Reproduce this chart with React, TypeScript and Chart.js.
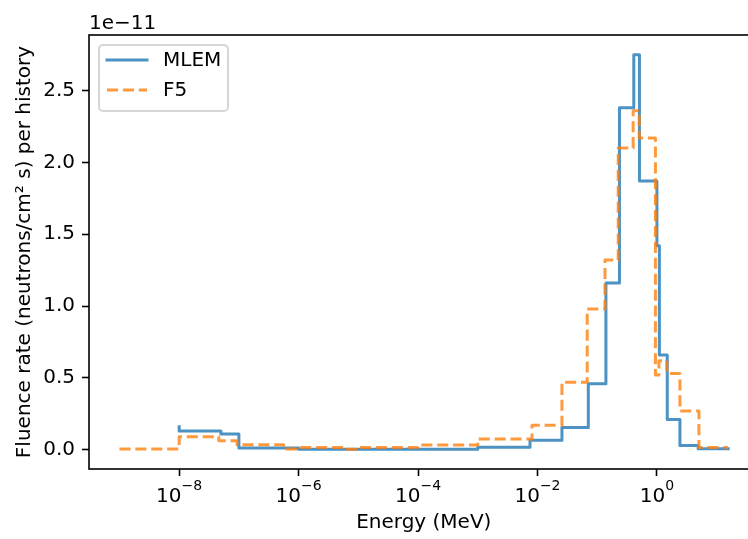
import React, { useEffect, useRef } from "react";
import { Chart, registerables } from "chart.js";

Chart.register(...registerables);

// ---- data (fluence in units of 1e-11, energy in MeV; matplotlib "pre" steps) ----
const MLEM_ENERGY = [1e-8, 5e-8, 1e-7, 1e-6, 1e-3, 7.5e-3, 2.57e-2, 7.1e-2, 0.14, 0.236, 0.41, 0.51, 1.0, 1.1, 1.49, 2.43, 4.9, 15.6];
const MLEM_FLUENCE = [0.16, 0.13, 0.11, 0.012, 0.004, 0.017, 0.065, 0.155, 0.46, 1.16, 2.38, 2.75, 1.87, 1.42, 0.66, 0.21, 0.03, 0.007];

const F5_ENERGY = [1e-9, 1e-8, 4.6e-8, 9.3e-8, 5.6e-7, 1e-6, 5.6e-6, 9.1e-6, 1e-4, 1e-3, 8.1e-3, 2.57e-2, 6.8e-2, 0.135, 0.225, 0.4, 0.506, 0.944, 1.08, 1.47, 2.43, 5.05, 15.4];
const F5_FLUENCE = [0.005, 0.005, 0.09, 0.063, 0.035, 0.005, 0.016, 0.003, 0.016, 0.032, 0.075, 0.17, 0.47, 0.98, 1.32, 2.1, 2.36, 2.17, 0.52, 0.62, 0.53, 0.27, 0.016];

const SERIES_LABELS = ["MLEM", "F5"];
const X_TICKS = [1e-8, 1e-6, 1e-4, 1e-2, 1];
const X_TICK_EXPONENTS = ["\u22128", "\u22126", "\u22124", "\u22122", "0"];
const Y_TICKS = [0, 0.5, 1.0, 1.5, 2.0, 2.5];
const Y_OFFSET_TEXT = "1e\u221211";
const X_TITLE = "Energy (MeV)";
const Y_TITLE = "Fluence rate (neutrons/cm\u00b2 s) per history";

const FONT = '"DejaVu Sans", sans-serif';
const BLUE = "rgba(31,119,180,0.8)";
const ORANGE = "rgba(255,127,14,0.8)";

// matplotlib-like 5% margins
const allE = [...MLEM_ENERGY, ...F5_ENERGY];
const allF = [...MLEM_FLUENCE, ...F5_FLUENCE];
const lxMin = Math.log10(Math.min(...allE));
const lxMax = Math.log10(Math.max(...allE));
const lxPad = 0.05 * (lxMax - lxMin);
const X_MIN = Math.pow(10, lxMin - lxPad);
const X_MAX = Math.pow(10, lxMax + lxPad);
const fMin = Math.min(...allF);
const fMax = Math.max(...allF);
const fPad = 0.05 * (fMax - fMin);
const Y_MIN = fMin - fPad;
const Y_MAX = fMax + fPad;

const decorPlugin = {
  id: "decor",
  afterDraw(chart: any) {
    const { ctx, chartArea: a } = chart;
    const xs = chart.scales.x;
    ctx.save();
    // frame (spines)
    ctx.strokeStyle = "#000";
    ctx.lineWidth = 1.6;
    ctx.strokeRect(a.left, a.top, a.right - a.left, a.bottom - a.top);

    // x tick labels 10^n
    ctx.fillStyle = "#000";
    ctx.textBaseline = "alphabetic";
    ctx.textAlign = "left";
    X_TICKS.forEach((v, i) => {
      const px = xs.getPixelForValue(v);
      ctx.font = `20px ${FONT}`;
      const wb = ctx.measureText("10").width;
      ctx.font = `14px ${FONT}`;
      const ws = ctx.measureText(X_TICK_EXPONENTS[i]).width;
      const x0 = px - (wb + ws) / 2;
      ctx.font = `20px ${FONT}`;
      ctx.fillText("10", x0, 501.5);
      ctx.font = `14px ${FONT}`;
      ctx.fillText(X_TICK_EXPONENTS[i], x0 + wb, 489.5);
    });

    // offset text
    ctx.font = `20px ${FONT}`;
    ctx.fillText(Y_OFFSET_TEXT, a.left, a.top - 6);

    // legend
    const lx = a.left + 10, ly = a.top + 10, lw = 129, lh = 66, r = 4;
    ctx.beginPath();
    ctx.moveTo(lx + r, ly);
    ctx.lineTo(lx + lw - r, ly);
    ctx.arcTo(lx + lw, ly, lx + lw, ly + r, r);
    ctx.lineTo(lx + lw, ly + lh - r);
    ctx.arcTo(lx + lw, ly + lh, lx + lw - r, ly + lh, r);
    ctx.lineTo(lx + r, ly + lh);
    ctx.arcTo(lx, ly + lh, lx, ly + lh - r, r);
    ctx.lineTo(lx, ly + r);
    ctx.arcTo(lx, ly, lx + r, ly, r);
    ctx.closePath();
    ctx.fillStyle = "rgba(255,255,255,0.8)";
    ctx.fill();
    ctx.strokeStyle = "rgba(204,204,204,0.8)";
    ctx.lineWidth = 2;
    ctx.stroke();

    const rows = [
      { label: SERIES_LABELS[0], color: BLUE, dash: [] as number[], y: ly + 15 },
      { label: SERIES_LABELS[1], color: ORANGE, dash: [11.1, 4.8], y: ly + 45 },
    ];
    rows.forEach((row) => {
      ctx.beginPath();
      ctx.setLineDash(row.dash);
      ctx.strokeStyle = row.color;
      ctx.lineWidth = 3;
      ctx.lineCap = row.dash.length ? "butt" : "square";
      ctx.moveTo(lx + 8, row.y);
      ctx.lineTo(lx + 48, row.y);
      ctx.stroke();
      ctx.setLineDash([]);
      ctx.fillStyle = "#000";
      ctx.font = `20px ${FONT}`;
      ctx.textBaseline = "middle";
      ctx.fillText(row.label, lx + 64, row.y + 1);
    });
    ctx.restore();
  },
};

export default function App() {
  const ref = useRef<HTMLCanvasElement | null>(null);

  useEffect(() => {
    if (!ref.current) return;
    Chart.defaults.font.family = FONT;
    const chart = new Chart(ref.current, {
      type: "line",
      data: {
        datasets: [
          {
            label: SERIES_LABELS[1],
            data: F5_ENERGY.map((e, i) => ({ x: e, y: F5_FLUENCE[i] })),
            borderColor: ORANGE,
            borderWidth: 3,
            borderDash: [11.1, 4.8],
            borderCapStyle: "butt",
            borderJoinStyle: "round",
            stepped: "after",
            pointRadius: 0,
            pointHoverRadius: 0,
            fill: false,
            order: 0,
          },
          {
            label: SERIES_LABELS[0],
            data: MLEM_ENERGY.map((e, i) => ({ x: e, y: MLEM_FLUENCE[i] })),
            borderColor: BLUE,
            borderWidth: 3,
            borderCapStyle: "square",
            borderJoinStyle: "round",
            stepped: "after",
            pointRadius: 0,
            pointHoverRadius: 0,
            fill: false,
            order: 1,
          },
        ],
      },
      options: {
        responsive: true,
        maintainAspectRatio: false,
        animation: false,
        events: [],
        layout: { padding: { top: 35, right: 1.4, bottom: 0, left: 0 } },
        plugins: { legend: { display: false }, tooltip: { enabled: false } },
        scales: {
          x: {
            type: "logarithmic",
            min: X_MIN,
            max: X_MAX,
            afterBuildTicks: (s: any) => {
              s.ticks = X_TICKS.map((v) => ({ value: v }));
            },
            afterFit: (s: any) => {
              s.height = 70;
            },
            grid: { display: true, drawOnChartArea: false, drawTicks: true, tickLength: 7, tickWidth: 1.6, tickColor: "#000" },
            border: { display: false },
            ticks: { display: false },
            title: {
              display: true,
              text: X_TITLE,
              color: "#000",
              font: { family: FONT, size: 20 },
              padding: { top: 0, bottom: 4 },
            },
          },
          y: {
            type: "linear",
            min: Y_MIN,
            max: Y_MAX,
            afterBuildTicks: (s: any) => {
              s.ticks = Y_TICKS.map((v) => ({ value: v }));
            },
            afterFit: (s: any) => {
              s.width = 89;
            },
            grid: { display: true, drawOnChartArea: false, drawTicks: true, tickLength: 7, tickWidth: 1.6, tickColor: "#000" },
            border: { display: false },
            ticks: {
              color: "#000",
              padding: 7,
              font: { family: FONT, size: 20 },
              callback: (v: any) => Number(v).toFixed(1),
            },
            title: {
              display: true,
              text: Y_TITLE,
              color: "#000",
              font: { family: FONT, size: 20 },
              padding: { top: 12.4, bottom: 0 },
            },
          },
        },
      } as any,
      plugins: [decorPlugin],
    });
    return () => chart.destroy();
  }, []);

  return (
    <div style={{ position: "fixed", left: 0, top: 0, width: 748, height: 539, overflow: "hidden", background: "#fff" }}>
      <div style={{ position: "relative", width: 760, height: 539 }}>
        <canvas ref={ref} />
      </div>
    </div>
  );
}
